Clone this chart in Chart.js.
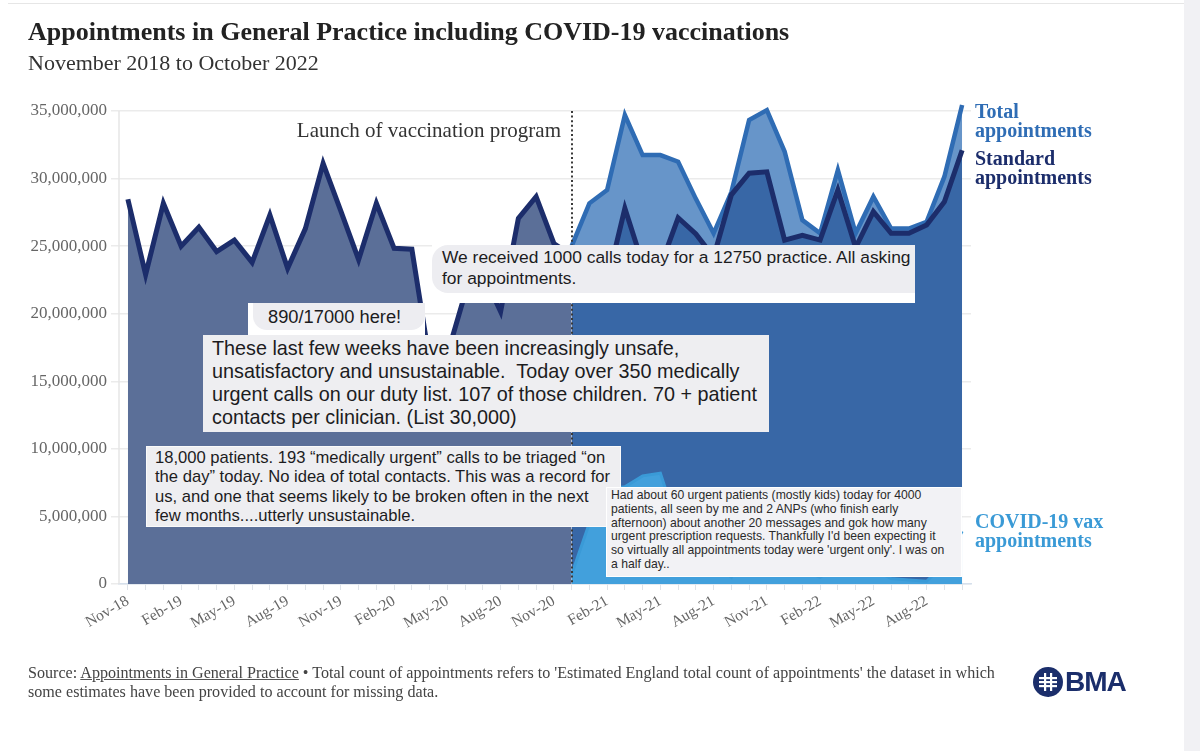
<!DOCTYPE html>
<html>
<head>
<meta charset="utf-8">
<script src="https://cdn.jsdelivr.net/npm/chart.js@4.4.0/dist/chart.umd.min.js"></script>
<style>
  html, body { margin:0; padding:0; background:#fff; width:1200px; height:751px; overflow:hidden; }
  body { position:relative; }
  #chartWrap { position:absolute; left:0; top:0; width:1200px; height:751px; }
  .serif { font-family:"Liberation Serif","Times New Roman",serif; }
  .sans { font-family:"Liberation Sans",Arial,sans-serif; }
  #topline { position:absolute; left:8px; right:16px; top:3px; height:1px; background:#e6e6e6; }
  #rightstrip { position:absolute; left:1184px; top:0; width:16px; height:751px; background:#f1f1f4; }
  #title { position:absolute; left:28px; top:17px; font-weight:bold; font-size:26px; color:#222; white-space:nowrap; }
  #subtitle { position:absolute; left:28px; top:50px; font-size:22px; color:#333; white-space:nowrap; }
  #footer { position:absolute; left:28px; top:663px; font-size:16.1px; line-height:19px; color:#444; white-space:nowrap; }
  #footer u { text-decoration-color:#555; }
  #logo { position:absolute; left:1033px; top:666px; height:32px; display:flex; align-items:center; }
  #logo span { font-family:"Liberation Sans",Arial,sans-serif; font-weight:bold; font-size:28px; color:#1b2e6b; letter-spacing:-1px; margin-left:2px; }
  .note { position:absolute; color:#1c1c1e; white-space:nowrap; box-sizing:border-box; }
  .white { background:#fff; }
  .bub { position:absolute; background:#ededf1; box-sizing:border-box; }
</style>
</head>
<body>
<div id="topline"></div>
<div id="chartWrap"><canvas id="c"></canvas></div>
<div id="rightstrip"></div>

<div id="title" class="serif">Appointments in General Practice including COVID-19 vaccinations</div>
<div id="subtitle" class="serif">November 2018 to October 2022</div>

<!-- overlaid messages -->
<div class="note white sans" style="left:432px;top:245px;width:483px;height:58px;">
  <div class="bub" style="left:0;top:0;width:483px;height:48px;border-radius:16px 0 0 16px;padding:2px 0 0 10px;font-size:17.4px;line-height:21px;">We received 1000 calls today for a 12750 practice. All asking<br>for appointments.</div>
</div>
<div class="note white sans" style="left:248px;top:303px;width:177px;height:32px;">
  <div class="bub" style="left:5px;top:0;width:172px;height:27px;border-radius:0 0 14px 14px;padding:3px 0 0 15px;font-size:18.3px;line-height:22px;">890/17000 here!</div>
</div>
<div class="note sans" style="left:203px;top:335px;width:566px;height:97px;background:#eeeef1;padding:2px 0 0 9px;font-size:19.8px;line-height:23px;">These last few weeks have been increasingly unsafe,<br>unsatisfactory and unsustainable.&nbsp; Today over 350 medically<br>urgent calls on our duty list. 107 of those children. 70 + patient<br>contacts per clinician. (List 30,000)</div>
<div class="note sans" style="left:146px;top:446px;width:475px;height:81px;background:#eeeef1;border:1px solid #fafafa;padding:1px 0 0 8px;font-size:16.6px;line-height:19.4px;">18,000 patients. 193 “medically urgent” calls to be triaged “on<br>the day” today. No idea of total contacts. This was a record for<br>us, and one that seems likely to be broken often in the next<br>few months....utterly unsustainable.</div>
<div class="note sans" style="left:606px;top:487px;width:356px;height:90px;background:#f2f2f5;border:1px solid #fff;padding:1px 0 0 4px;font-size:12.2px;line-height:13.8px;color:#2a2a2a;">Had about 60 urgent patients (mostly kids) today for 4000<br>patients, all seen by me and 2 ANPs (who finish early<br>afternoon) about another 20 messages and gok how many<br>urgent prescription requests. Thankfully I'd been expecting it<br>so virtually all appointments today were 'urgent only'. I was on<br>a half day..</div>

<div id="footer" class="serif">Source: <u>Appointments in General Practice</u> • Total count of appointments refers to 'Estimated England total count of appointments' the dataset in which<br>some estimates have been provided to account for missing data.</div>

<div id="logo">
  <svg width="30" height="30" viewBox="0 0 30 30">
    <circle cx="15" cy="15" r="15" fill="#1b2e6b"/>
    <rect x="6" y="10" width="18" height="2.2" fill="#fff"/>
    <rect x="6" y="14" width="18" height="2.2" fill="#fff"/>
    <rect x="6" y="18" width="18" height="2.2" fill="#fff"/>
    <rect x="11" y="6" width="2.2" height="18" fill="#fff"/>
    <rect x="17" y="6" width="2.2" height="18" fill="#fff"/>
  </svg>
  <span>BMA</span>
</div>

<script>
// ---- data (values in millions of appointments) ----
const months = ['Nov-18','Dec-18','Jan-19','Feb-19','Mar-19','Apr-19','May-19','Jun-19','Jul-19','Aug-19','Sep-19','Oct-19',
  'Nov-19','Dec-19','Jan-20','Feb-20','Mar-20','Apr-20','May-20','Jun-20','Jul-20','Aug-20','Sep-20','Oct-20',
  'Nov-20','Dec-20','Jan-21','Feb-21','Mar-21','Apr-21','May-21','Jun-21','Jul-21','Aug-21','Sep-21','Oct-21',
  'Nov-21','Dec-21','Jan-22','Feb-22','Mar-22','Apr-22','May-22','Jun-22','Jul-22','Aug-22','Sep-22','Oct-22'];

const standardAppointments = [28.47,22.90,28.17,25.00,26.40,24.60,25.45,23.80,27.30,23.36,26.30,31.13,
  27.60,24.00,28.17,24.84,24.77,16.50,17.00,21.50,23.00,20.15,27.06,28.66,
  25.20,24.30,23.70,22.30,27.80,23.70,23.50,27.10,25.90,24.20,28.80,30.40,
  30.50,25.45,25.80,25.45,29.16,24.90,27.55,25.95,25.95,26.57,28.29,32.10];

const totalAppointments = [null,null,null,null,null,null,null,null,null,null,null,null,
  null,null,null,null,null,null,null,null,null,null,null,null,
  null,25.00,28.17,29.16,34.70,31.74,31.74,31.25,28.50,25.95,29.00,34.33,
  35.07,32.00,26.93,25.95,30.63,25.95,28.66,26.30,26.30,26.80,30.14,35.44];

const covidVaxAppointments = [null,null,null,null,null,null,null,null,null,null,null,null,
  null,null,null,null,null,null,null,null,null,null,null,null,
  null,0.70,4.50,7.00,7.20,8.00,8.20,4.20,2.50,1.60,0.50,3.90,
  4.60,6.50,1.10,0.50,1.40,1.00,1.10,0.40,0.30,0.20,1.50,3.90];

const yTickValues = [0,5,10,15,20,25,30,35];
const launchLabel = 'Launch of vaccination program';
const launchMonth = 'Dec-20';
const seriesLabels = {
  total: ['Total','appointments'],
  standard: ['Standard','appointments'],
  vax: ['COVID-19 vax','appointments']
};

// ---- styles ----
const C = {
  navy:'#1c2d6b', preFill:'#5b6f98', postFill:'#3867a6',
  totalLine:'#2f6cb4', totalFill:'#6795c9',
  vaxLine:'#3a9ad7', vaxFill:'#42a0dc',
  totalText:'#2f6db5', vaxText:'#3a9ad6'
};
const launchIndex = months.indexOf(launchMonth);

const annotations = {
  id:'annotations',
  afterDatasetsDraw(chart){
    const {ctx, chartArea:a, scales:{x,y}} = chart;
    ctx.save();
    // y axis line
    ctx.strokeStyle='#e6e6e6'; ctx.lineWidth=1.5;
    ctx.beginPath(); ctx.moveTo(a.left, y.getPixelForValue(35)); ctx.lineTo(a.left, a.bottom); ctx.stroke();
    // launch line
    const px = Math.round(x.getPixelForValue(launchIndex));
    ctx.strokeStyle='#3a3a3a'; ctx.lineWidth=2; ctx.setLineDash([2,2.6]);
    ctx.beginPath(); ctx.moveTo(px, y.getPixelForValue(35)); ctx.lineTo(px, a.bottom); ctx.stroke();
    ctx.setLineDash([]);
    ctx.fillStyle='#333'; ctx.font='21px "Liberation Serif", serif';
    ctx.textAlign='right'; ctx.textBaseline='alphabetic';
    ctx.fillText(launchLabel, px-11, 137);
    // series end labels
    ctx.textAlign='left';
    ctx.font='bold 20px "Liberation Serif", serif';
    const lx = a.right + 4;
    const last = months.length-1;
    const drawLbl = (lines, val, off, color) => {
      const yy = y.getPixelForValue(val);
      ctx.fillStyle = color;
      lines.forEach((t,i)=>ctx.fillText(t, lx, yy+off+i*18.5));
    };
    drawLbl(seriesLabels.total, totalAppointments[last], 13, C.totalText);
    drawLbl(seriesLabels.standard, standardAppointments[last], 15, C.navy);
    drawLbl(seriesLabels.vax, covidVaxAppointments[last], -3, C.vaxText);
    ctx.restore();
  }
};

new Chart(document.getElementById('c'), {
  type:'line',
  data:{
    labels: months,
    datasets:[
      { label:'COVID-19 vax appointments', data: covidVaxAppointments, order:1,
        borderColor:C.vaxLine, backgroundColor:C.vaxFill, borderWidth:3, fill:'origin',
        pointRadius:0, tension:0 },
      { label:'Standard appointments', data: standardAppointments, order:2,
        borderColor:C.navy, backgroundColor:C.preFill, borderWidth:5, fill:'origin',
        pointRadius:0, tension:0, borderJoinStyle:'miter',
        segment:{ backgroundColor: ctx => ctx.p0DataIndex >= launchIndex ? C.postFill : undefined } },
      { label:'Total appointments', data: totalAppointments, order:3,
        borderColor:C.totalLine, backgroundColor:C.totalFill, borderWidth:4.5,
        fill:{ target:1, above:C.totalFill, below:C.totalFill },
        pointRadius:0, tension:0, borderJoinStyle:'miter' }
    ]
  },
  options:{
    responsive:true, maintainAspectRatio:false, animation:false,
    layout:{ padding:{ left:0, right:229, top:97.5, bottom:107 } },
    plugins:{ legend:{display:false}, tooltip:{enabled:false}, title:{display:false} },
    scales:{
      x:{
        type:'category', offset:true,
        grid:{ display:true, drawOnChartArea:false, drawTicks:true, tickLength:6, color:'#dfe3e8', offset:false },
        border:{ display:true, color:'#d6e0ec', width:1.5 },
        ticks:{ autoSkip:false, maxRotation:30, minRotation:30, padding:2,
          color:'#666', font:{ family:'"Liberation Serif", serif', size:15.5 },
          callback:(v,i)=> i%3===0 ? months[i] : '' },
        afterFit:(s)=>{ s.height = 60; }
      },
      y:{
        min:0, max:36,
        grid:{ color:'#ebebeb', lineWidth:1.5, tickLength:8, drawTicks:true },
        border:{ display:false },
        ticks:{ stepSize:5, padding:4, color:'#666', font:{ family:'"Liberation Serif", serif', size:17 },
          callback:(v)=> (v*1e6).toLocaleString('en-US') },
        afterBuildTicks:(s)=>{ s.ticks = yTickValues.map(v=>({value:v})); },
        afterFit:(s)=>{ s.width = 119; }
      }
    }
  },
  plugins:[annotations]
});
</script>
</body>
</html>
